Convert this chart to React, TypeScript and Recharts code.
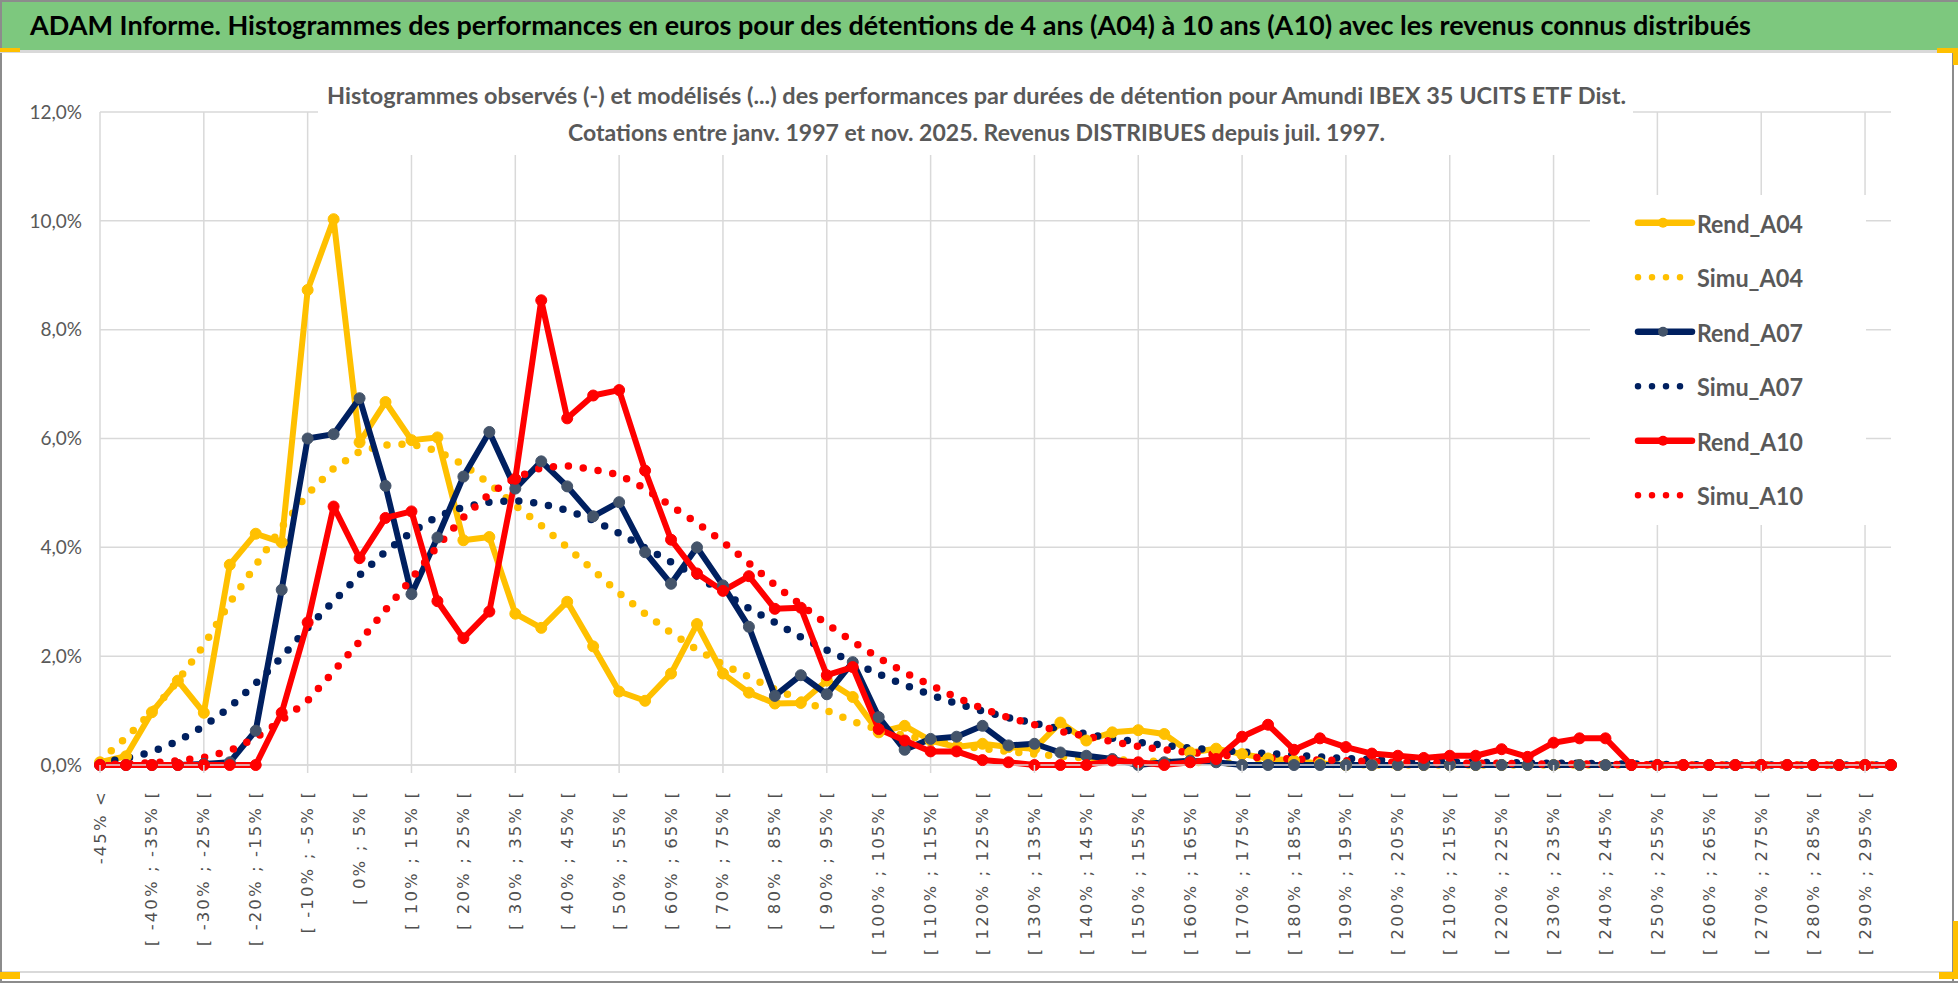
import React from 'react';
import { LineChart, Line, XAxis, YAxis, CartesianGrid, Legend } from 'recharts';

const categories = [
  '-45% <', '[ -45% ; -40% [', '[ -40% ; -35% [', '[ -35% ; -30% [', '[ -30% ; -25% [',
  '[ -25% ; -20% [', '[ -20% ; -15% [', '[ -15% ; -10% [', '[ -10% ; -5% [', '[ -5% ; 0% [',
  '[ 0% ; 5% [', '[ 5% ; 10% [', '[ 10% ; 15% [', '[ 15% ; 20% [', '[ 20% ; 25% [',
  '[ 25% ; 30% [', '[ 30% ; 35% [', '[ 35% ; 40% [', '[ 40% ; 45% [', '[ 45% ; 50% [',
  '[ 50% ; 55% [', '[ 55% ; 60% [', '[ 60% ; 65% [', '[ 65% ; 70% [', '[ 70% ; 75% [',
  '[ 75% ; 80% [', '[ 80% ; 85% [', '[ 85% ; 90% [', '[ 90% ; 95% [', '[ 95% ; 100% [',
  '[ 100% ; 105% [', '[ 105% ; 110% [', '[ 110% ; 115% [', '[ 115% ; 120% [', '[ 120% ; 125% [',
  '[ 125% ; 130% [', '[ 130% ; 135% [', '[ 135% ; 140% [', '[ 140% ; 145% [', '[ 145% ; 150% [',
  '[ 150% ; 155% [', '[ 155% ; 160% [', '[ 160% ; 165% [', '[ 165% ; 170% [', '[ 170% ; 175% [',
  '[ 175% ; 180% [', '[ 180% ; 185% [', '[ 185% ; 190% [', '[ 190% ; 195% [', '[ 195% ; 200% [',
  '[ 200% ; 205% [', '[ 205% ; 210% [', '[ 210% ; 215% [', '[ 215% ; 220% [', '[ 220% ; 225% [',
  '[ 225% ; 230% [', '[ 230% ; 235% [', '[ 235% ; 240% [', '[ 240% ; 245% [', '[ 245% ; 250% [',
  '[ 250% ; 255% [', '[ 255% ; 260% [', '[ 260% ; 265% [', '[ 265% ; 270% [', '[ 270% ; 275% [',
  '[ 275% ; 280% [', '[ 280% ; 285% [', '[ 285% ; 290% [', '[ 290% ; 295% [', '[ 295% ; 300% [',
];

const rendA04 = [
  0.05, 0.16, 0.97, 1.55, 0.96, 3.68, 4.25, 4.09, 8.73, 10.03,
  5.93, 6.67, 5.97, 6.02, 4.13, 4.19, 2.78, 2.52, 3.0, 2.18,
  1.35, 1.18, 1.68, 2.59, 1.68, 1.33, 1.13, 1.14, 1.55, 1.25,
  0.6, 0.72, 0.45, 0.33, 0.39, 0.33, 0.3, 0.78, 0.45, 0.6,
  0.64, 0.57, 0.23, 0.3, 0.2, 0.12, 0.08, 0.03, 0, 0,
  0, 0, 0, 0, 0, 0, 0, 0, 0, 0,
  0, 0, 0, 0, 0, 0, 0, 0, 0, 0,
];

const simuA04 = [
  0.08, 0.5, 0.98, 1.55, 2.2, 2.98, 3.67, 4.37, 4.98, 5.45,
  5.76, 5.88, 5.9, 5.77, 5.52, 5.17, 4.77, 4.4, 4.0, 3.58,
  3.16, 2.78, 2.43, 2.12, 1.85, 1.62, 1.39, 1.2, 1.0, 0.8,
  0.65, 0.54, 0.45, 0.37, 0.3, 0.25, 0.2, 0.16, 0.13, 0.1,
  0.08, 0.06, 0.05, 0.04, 0.03, 0.02, 0.02, 0.01, 0.01, 0,
  0, 0, 0, 0, 0, 0, 0, 0, 0, 0,
  0, 0, 0, 0, 0, 0, 0, 0, 0, 0,
];

const rendA07 = [
  0, 0, 0, 0, 0.02, 0.05, 0.63, 3.22, 6.0, 6.08,
  6.74, 5.13, 3.14, 4.18, 5.3, 6.12, 5.08, 5.58, 5.12, 4.57,
  4.83, 3.91, 3.33, 4.0, 3.3, 2.54, 1.27, 1.65, 1.3, 1.89,
  0.88, 0.28, 0.48, 0.52, 0.72, 0.36, 0.39, 0.23, 0.17, 0.11,
  0, 0.05, 0.08, 0.05, 0, 0, 0, 0, 0, 0,
  0, 0, 0, 0, 0, 0, 0, 0, 0, 0,
  0, 0, 0, 0, 0, 0, 0, 0, 0, 0,
];

const simuA07 = [
  0.04, 0.12, 0.24, 0.44, 0.71, 1.06, 1.5, 1.98, 2.52, 3.01,
  3.49, 3.92, 4.28, 4.57, 4.74, 4.83, 4.86, 4.8, 4.68, 4.5,
  4.26, 3.99, 3.73, 3.47, 3.17, 2.88, 2.62, 2.35, 2.11, 1.89,
  1.67, 1.47, 1.29, 1.13, 0.99, 0.87, 0.77, 0.66, 0.57, 0.49,
  0.42, 0.36, 0.31, 0.27, 0.24, 0.21, 0.18, 0.15, 0.12, 0.1,
  0.08, 0.07, 0.06, 0.05, 0.04, 0.04, 0.03, 0.03, 0.02, 0.02,
  0.01, 0.01, 0, 0, 0, 0, 0, 0, 0, 0,
];

const rendA10 = [
  0, 0, 0, 0, 0, 0, 0, 0.96, 2.62, 4.75,
  3.8, 4.54, 4.66, 3.01, 2.33, 2.82, 5.26, 8.54, 6.37, 6.79,
  6.89, 5.41, 4.14, 3.52, 3.2, 3.47, 2.87, 2.89, 1.65, 1.8,
  0.66, 0.45, 0.25, 0.25, 0.09, 0.05, 0, 0, 0, 0.08,
  0.05, 0, 0.05, 0.11, 0.52, 0.74, 0.28, 0.49, 0.33, 0.21,
  0.17, 0.13, 0.17, 0.17, 0.29, 0.15, 0.41, 0.49, 0.49, 0,
  0, 0, 0, 0, 0, 0, 0, 0, 0, 0,
];

const simuA10 = [
  0, 0.02, 0.04, 0.08, 0.14, 0.26, 0.5, 0.82, 1.18, 1.72,
  2.27, 2.85, 3.42, 4.02, 4.55, 4.98, 5.28, 5.46, 5.5, 5.43,
  5.33, 5.08, 4.76, 4.45, 4.1, 3.71, 3.31, 2.94, 2.59, 2.27,
  1.97, 1.7, 1.47, 1.24, 1.04, 0.87, 0.74, 0.62, 0.53, 0.43,
  0.34, 0.28, 0.23, 0.19, 0.15, 0.13, 0.11, 0.09, 0.08, 0.06,
  0.05, 0.04, 0.04, 0.03, 0.03, 0.02, 0.02, 0.02, 0.01, 0.01,
  0, 0, 0, 0, 0, 0, 0, 0, 0, 0,
];

const yTicks = [0, 2, 4, 6, 8, 10, 12];

const headerTitle =
  'ADAM Informe. Histogrammes des performances en euros pour des détentions de 4 ans (A04) à 10 ans (A10) avec les revenus connus distribués';
const chartTitle1 =
  'Histogrammes observés (-) et modélisés (...) des performances par durées de détention pour Amundi IBEX 35 UCITS ETF Dist.';
const chartTitle2 = 'Cotations entre janv. 1997 et nov. 2025. Revenus DISTRIBUES depuis juil. 1997.';

const W = 1958;
const H = 983;
const EXCEL = "Lato, 'Liberation Sans', sans-serif";
const WIDE = "'DejaVu Sans', Verdana, sans-serif";
const GREY = '#595959';
const GRID = '#D9D9D9';
const HANDLE = '#FFC000';

type Serie = { key: string; values: number[]; color: string; marker?: string; dotted: boolean };

const series: Serie[] = [
  { key: 'Rend_A04', values: rendA04, color: '#FFC000', marker: '#FFC000', dotted: false },
  { key: 'Simu_A04', values: simuA04, color: '#FFC000', dotted: true },
  { key: 'Rend_A07', values: rendA07, color: '#002060', marker: '#44546A', dotted: false },
  { key: 'Simu_A07', values: simuA07, color: '#002060', dotted: true },
  { key: 'Rend_A10', values: rendA10, color: '#FF0000', marker: '#FF0000', dotted: false },
  { key: 'Simu_A10', values: simuA10, color: '#FF0000', dotted: true },
];

const data = categories.map((cat, i) => {
  const row: Record<string, string | number> = { cat };
  series.forEach((s) => {
    row[s.key] = s.values[i];
  });
  return row;
});

const fmtPct = (v: number) => `${v.toFixed(1).replace('.', ',')}%`;

const verticalGen = (props: any) => {
  const offset = props?.offset || {};
  const scale = props?.xAxis?.scale;
  const n = categories.length;
  const xs: number[] = [];
  categories.forEach((c, i) => {
    if (i % 4 !== 0) return;
    let x: any;
    if (typeof scale === 'function') {
      try {
        x = scale(c);
      } catch (e) {
        x = undefined;
      }
    }
    if (typeof x !== 'number' || isNaN(x)) {
      x = (offset.left || 0) + (i * (offset.width || 0)) / (n - 1);
    }
    xs.push(x);
  });
  return xs;
};

const XTick = (props: any) => {
  const { x, y, payload } = props;
  const idx = categories.indexOf(payload.value);
  return (
    <g>
      {idx % 4 === 0 && <line x1={x} x2={x} y1={y - 8} y2={y} stroke={GRID} strokeWidth={1.5} />}
      <text
        x={0}
        y={0}
        transform={`translate(${x},${y + 17}) rotate(-90)`}
        textAnchor="end"
        dominantBaseline="central"
        fontFamily={WIDE}
        fontSize={16.5}
        letterSpacing={2.1}
        fill="#505050"
      >
        {payload.value}
      </text>
    </g>
  );
};

const LegendBox = () => (
  <svg width={276} height={330} style={{ display: 'block' }}>
    {series.map((s, i) => {
      const cy = 27.7 + i * 54.5;
      return (
        <g key={s.key}>
          {s.dotted ? (
            <line x1={48} x2={102} y1={cy} y2={cy} stroke={s.color} strokeWidth={6.5} strokeDasharray="0 14" strokeLinecap="round" />
          ) : (
            <>
              <line x1={48} x2={102} y1={cy} y2={cy} stroke={s.color} strokeWidth={6.5} strokeLinecap="round" />
              <circle cx={73} cy={cy} r={5} fill={s.marker} />
            </>
          )}
          <text
            x={107}
            y={cy}
            dominantBaseline="central"
            fontFamily={EXCEL}
            fontWeight="bold"
            fontSize={25}
            fill={GREY}
            textLength={106}
            lengthAdjust="spacingAndGlyphs"
          >
            {s.key}
          </text>
        </g>
      );
    })}
  </svg>
);

export default function App() {
  return (
    <div style={{ position: 'absolute', left: 0, top: 0, width: W, height: H, overflow: 'hidden', background: '#fff' }}>
      <div style={{ position: 'absolute', left: 0, top: 0 }}>
        <LineChart width={W} height={H} data={data} margin={{ top: 112, right: 67, bottom: 0, left: 0 }}>
          <CartesianGrid stroke={GRID} strokeWidth={1.5} verticalCoordinatesGenerator={verticalGen} />
          <XAxis
            dataKey="cat"
            interval={1}
            tick={<XTick />}
            tickLine={false}
            tickSize={8}
            tickMargin={0}
            axisLine={{ stroke: GRID, strokeWidth: 1.5 }}
            height={218}
          />
          <YAxis
            domain={[0, 12]}
            ticks={yTicks}
            tickFormatter={fmtPct}
            axisLine={false}
            tickLine={false}
            width={100}
            tickMargin={12}
            tick={{ fontFamily: EXCEL, fontSize: 19, fill: GREY }}
          />
          <Legend
            layout="horizontal"
            verticalAlign="middle"
            align="center"
            wrapperStyle={{ left: 1590, top: 195, width: 276, height: 330, background: '#fff' }}
            content={() => <LegendBox />}
          />
          {series.map((s) =>
            s.dotted ? (
              <Line
                key={s.key}
                dataKey={s.key}
                type="linear"
                stroke={s.color}
                strokeWidth={7.5}
                strokeDasharray="0 15"
                strokeLinecap="round"
                dot={false}
                activeDot={false}
                isAnimationActive={false}
              />
            ) : (
              <Line
                key={s.key}
                dataKey={s.key}
                type="linear"
                stroke={s.color}
                strokeWidth={6}
                strokeLinejoin="round"
                dot={{ r: 5.5, fill: s.marker, stroke: s.marker, strokeWidth: 1 }}
                activeDot={false}
                isAnimationActive={false}
              />
            )
          )}
        </LineChart>
      </div>
      <svg
        width={W}
        height={H}
        style={{ position: 'absolute', left: 0, top: 0, pointerEvents: 'none' }}
      >
        <rect x={0} y={2} width={W} height={48} fill="#7DC87E" />
        <text
          x={30}
          y={35}
          fontFamily={EXCEL}
          fontWeight="bold"
          fontSize={27}
          fill="#000"
          textLength={1721}
          lengthAdjust="spacingAndGlyphs"
        >
          {headerTitle}
        </text>
        <rect x={0} y={0} width={W} height={2} fill="#8C8C8C" />
        <rect x={0} y={0} width={2} height={H} fill="#8C8C8C" />
        <rect x={0} y={H - 2} width={W} height={2} fill="#8C8C8C" />
        <rect x={1952} y={52} width={2} height={H - 52} fill="#8C8C8C" />
        <rect x={0} y={50} width={1953} height={3} fill="#D9D9D9" />
        <rect x={2} y={971} width={1950} height={2} fill="#D9D9D9" />
        <rect x={0} y={48} width={20} height={4} fill={HANDLE} />
        <rect x={1937} y={48} width={21} height={5} fill={HANDLE} />
        <rect x={1953} y={48} width={5} height={17} fill={HANDLE} />
        <rect x={0} y={972} width={20} height={7} fill={HANDLE} />
        <rect x={1939} y={972} width={19} height={7} fill={HANDLE} />
        <rect x={1953} y={921} width={5} height={58} fill={HANDLE} />
        <rect x={318} y={76} width={1315} height={79} fill="#fff" />
        <text
          x={976.5}
          y={104}
          textAnchor="middle"
          fontFamily={EXCEL}
          fontWeight="bold"
          fontSize={23}
          fill={GREY}
          textLength={1299}
          lengthAdjust="spacingAndGlyphs"
        >
          {chartTitle1}
        </text>
        <text
          x={976.5}
          y={141}
          textAnchor="middle"
          fontFamily={EXCEL}
          fontWeight="bold"
          fontSize={23}
          fill={GREY}
          textLength={817}
          lengthAdjust="spacingAndGlyphs"
        >
          {chartTitle2}
        </text>
      </svg>
    </div>
  );
}
